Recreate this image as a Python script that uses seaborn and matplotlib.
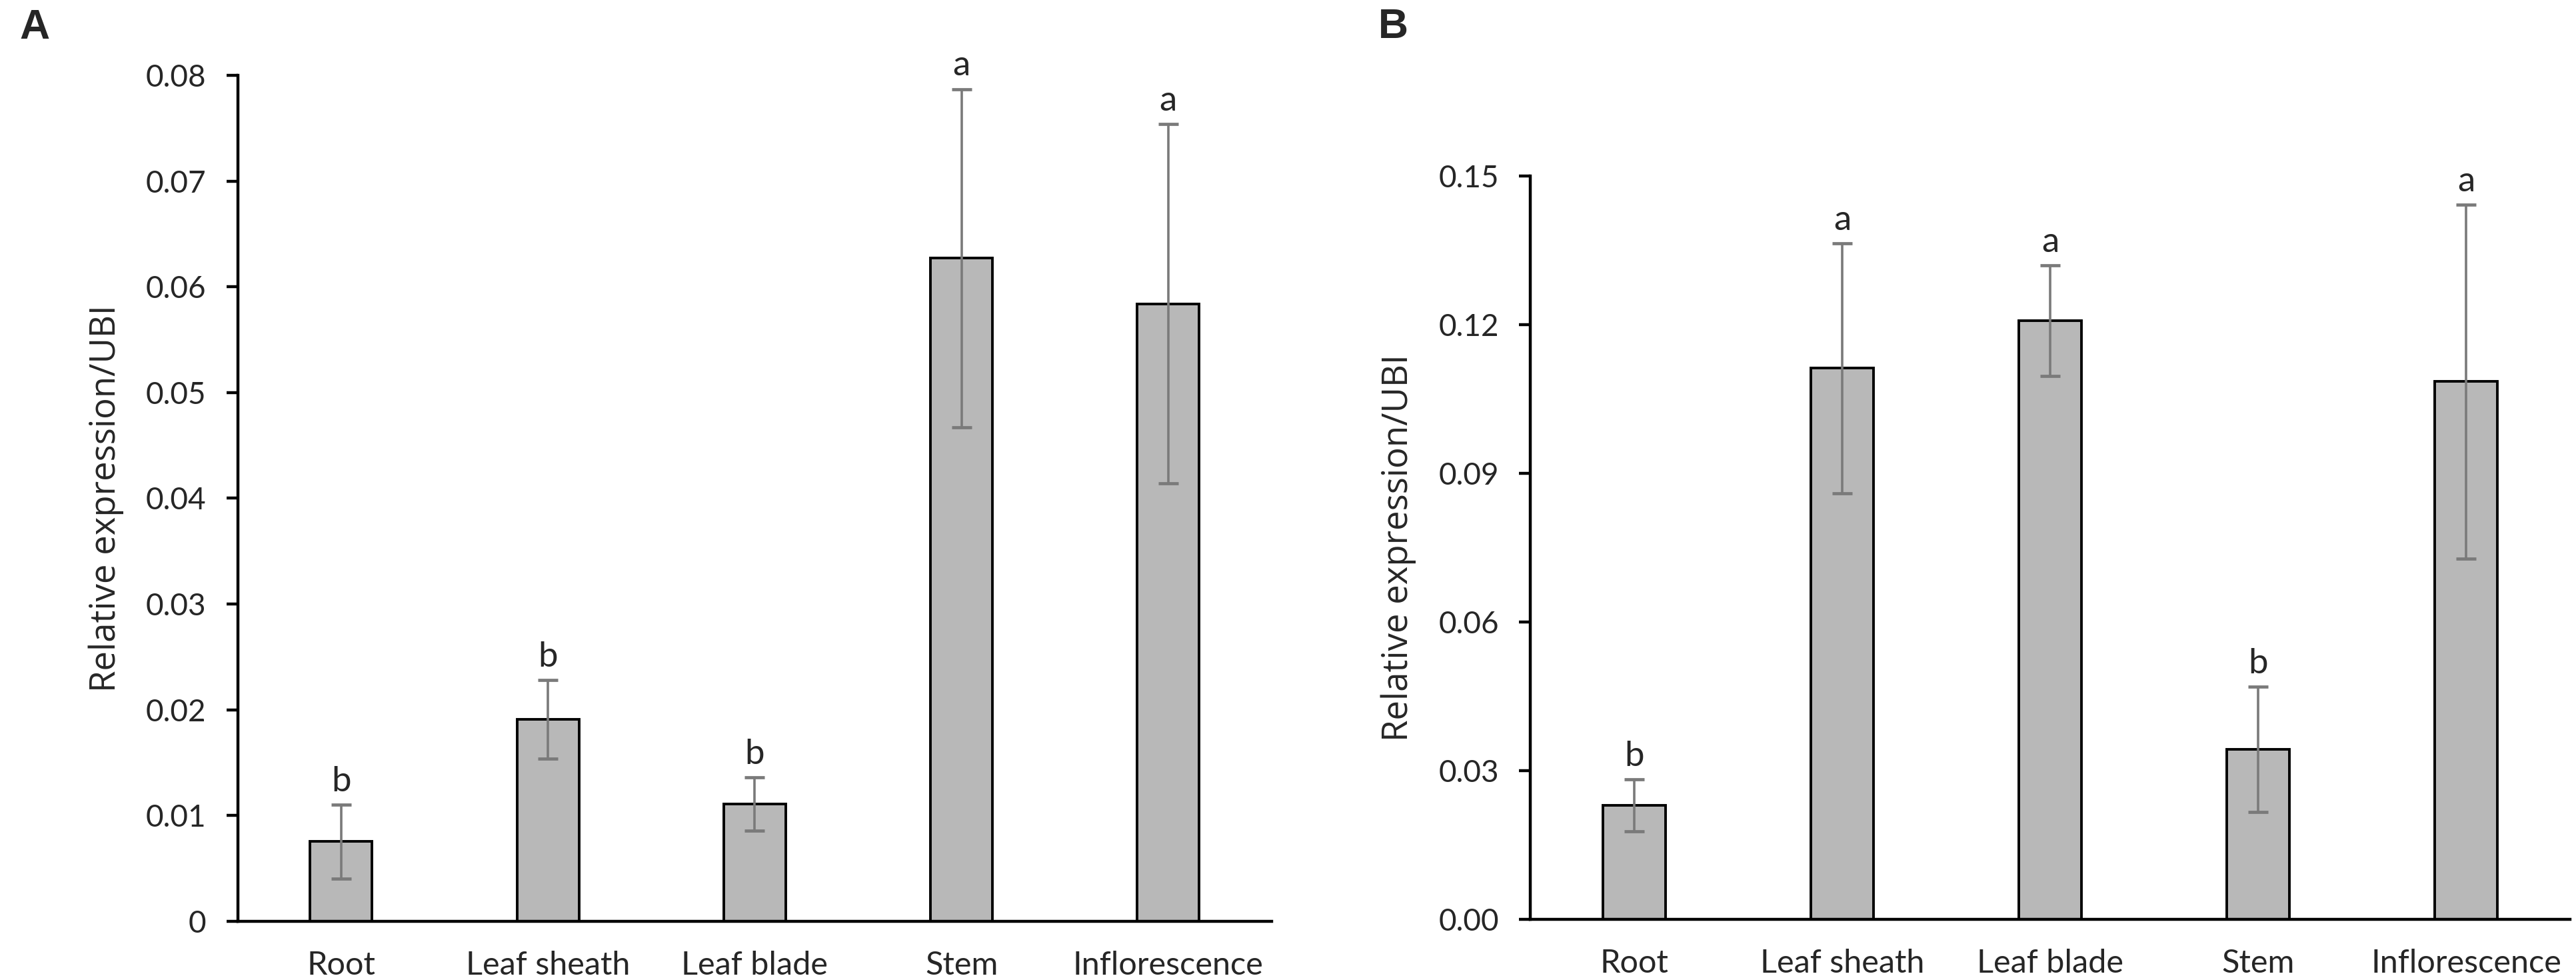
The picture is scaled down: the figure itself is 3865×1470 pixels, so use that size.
import pandas as pd
import matplotlib
matplotlib.use('Agg')  # no display here
import matplotlib.pyplot as plt
import seaborn as sns

# tissues on the x axis (same for both panels)
tissues = ['Root', 'Leaf sheath', 'Leaf blade', 'Stem', 'Inflorescence']

# panel A
expr_a = [0.00755, 0.0191, 0.0111, 0.0627, 0.0584]
err_a = [0.0035, 0.0037, 0.0025, 0.0160, 0.0170]
letters_a = ['b', 'b', 'b', 'a', 'a']
ticks_a = [0, 0.01, 0.02, 0.03, 0.04, 0.05, 0.06, 0.07, 0.08]
ticklabels_a = ['0', '0.01', '0.02', '0.03', '0.04', '0.05', '0.06', '0.07', '0.08']

# panel B
expr_b = [0.0230, 0.1112, 0.1208, 0.0343, 0.1085]
err_b = [0.0052, 0.0252, 0.0112, 0.0127, 0.0357]
letters_b = ['b', 'a', 'a', 'b', 'a']
ticks_b = [0, 0.03, 0.06, 0.09, 0.12, 0.15]
ticklabels_b = ['0.00', '0.03', '0.06', '0.09', '0.12', '0.15']

bar_grey = '#b8b8b8'
err_grey = '#7a7a7a'

sns.set_style('white')
plt.rcParams['font.family'] = ['Lato', 'DejaVu Sans']


def draw_panel(ax, values, errors, letters, ticks, ticklabels):
    df = pd.DataFrame({'tissue': tissues, 'expr': values})
    sns.barplot(data=df, x='tissue', y='expr', ax=ax, color=bar_grey,
                saturation=1, width=0.3, edgecolor='black', linewidth=1.4,
                errorbar=None, zorder=2)
    ax.errorbar(range(len(tissues)), values, yerr=errors, fmt='none',
                ecolor=err_grey, elinewidth=1.3, capsize=5.4, capthick=1.7,
                zorder=3)
    for i, (v, e, lab) in enumerate(zip(values, errors, letters)):
        ax.annotate(lab, (i, v + e), xytext=(0, 4), textcoords='offset points',
                    ha='center', va='bottom', fontsize=19)

    ax.set_xlim(-0.5, 4.5)
    ax.set_ylim(ticks[0], ticks[-1])
    ax.set_yticks(ticks)
    ax.set_yticklabels(ticklabels)
    ax.set_xlabel('')
    ax.set_ylabel('Relative expression/UBI', fontsize=19, family='Open Sans',
                  labelpad=12)
    sns.despine(ax=ax)
    for side in ['left', 'bottom']:
        ax.spines[side].set_linewidth(1.6)
        ax.spines[side].set_color('black')
    ax.tick_params(axis='y', length=6, width=1.6, pad=11, labelsize=16.5,
                   left=True, color='black')
    ax.tick_params(axis='x', length=0, pad=16, labelsize=17.5)


fig = plt.figure(figsize=(19.33, 7.35), dpi=200)
ax_a = fig.add_axes([0.0923, 0.0599, 0.4012, 0.8633])
ax_b = fig.add_axes([0.5939, 0.0619, 0.4035, 0.7585])

draw_panel(ax_a, expr_a, err_a, letters_a, ticks_a, ticklabels_a)
draw_panel(ax_b, expr_b, err_b, letters_b, ticks_b, ticklabels_b)

fig.text(29 / 3866, 1 - 58 / 1470, 'A', fontsize=22.5, fontweight='bold',
         family='Liberation Sans', va='baseline')
fig.text(2068 / 3866, 1 - 57 / 1470, 'B', fontsize=22.5, fontweight='bold',
         family='Liberation Sans', va='baseline')

fig.savefig('out.png', dpi=200)
